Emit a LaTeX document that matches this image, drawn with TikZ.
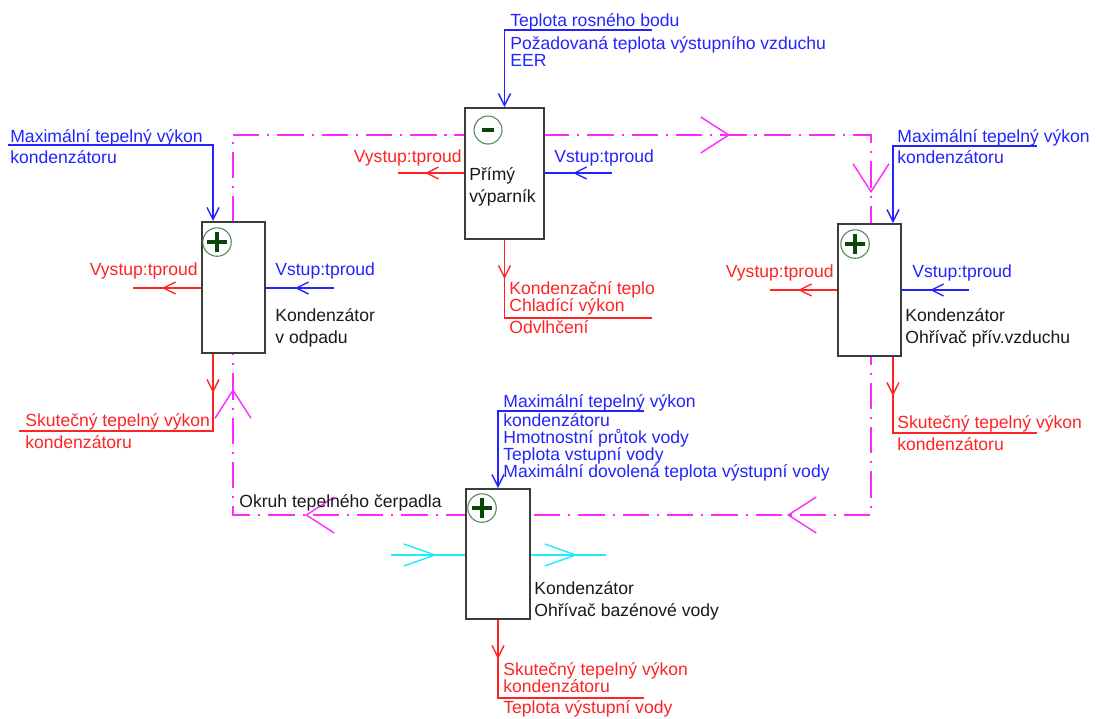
\documentclass[tikz,border=0pt]{standalone}
\usepackage{fontspec}
\setmainfont{Liberation Sans}
\usetikzlibrary{calc, positioning, arrows.meta, decorations.markings}

\definecolor{modra}{RGB}{35,35,255}
\definecolor{cervena}{RGB}{255,35,35}
\definecolor{fialova}{RGB}{255,40,255}
\definecolor{tyrkys}{RGB}{30,235,255}
\definecolor{tmzelena}{RGB}{10,70,10}
\definecolor{svzelena}{RGB}{80,135,80}
\definecolor{ramecek}{RGB}{60,60,60}
\definecolor{pismo}{RGB}{25,25,25}

\newcommand{\hustypis}{\fontsize{10}{9.6}\selectfont\lineskiplimit-20pt\relax}
\newcommand{\volnypis}{\fontsize{10}{12.2}\selectfont\lineskiplimit-20pt\relax}

\tikzset{
    mala/.tip={Straight Barb[length=2.4mm, width=2.4mm]},
    velka/.tip={Straight Barb[length=5.6mm, width=7.2mm]},
    vodni/.tip={Straight Barb[length=6.2mm, width=4.4mm]},
    blok/.style={draw=ramecek, line width=1.1pt, fill=white, inner sep=0pt},
    vstup/.style={modra, line width=0.8pt},
    vystup/.style={cervena, line width=0.8pt},
    voda/.style={tyrkys, line width=0.8pt},
    okruh/.style={fialova, line width=0.8pt,
        dash pattern=on 15pt off 4.5pt on 1.2pt off 4.5pt},
    sipka/.style={postaction={decorate, decoration={markings,
        mark=at position #1 with {\arrow{mala}}}}},
    sipka/.default=7.8mm,
    vodnisipka/.style={postaction={decorate, decoration={markings,
        mark=at position #1 with {\arrow{vodni}}}}},
    txt/.style={inner sep=0pt, align=left, font=\hustypis},
    popisek/.style={txt, text=pismo, font=\volnypis},
    plusznak/.style={circle, draw=svzelena, line width=0.6pt,
        minimum size=5.7mm, inner sep=0pt,
        path picture={\draw[tmzelena, line width=2pt]
            (path picture bounding box.center) ++(-10,0) -- ++(20,0)
            (path picture bounding box.center) ++(0,-10) -- ++(0,20);}},
    minusznak/.style={circle, draw=svzelena, line width=0.6pt,
        minimum size=5.6mm, inner sep=0pt,
        path picture={\draw[tmzelena, line width=2pt]
            (path picture bounding box.center) ++(-6,0) -- ++(12,0);}}
}

\begin{document}
\begin{tikzpicture}[x=0.2mm, y=-0.2mm]

    % 0. Rozmer obrazku
    \useasboundingbox (0,0) rectangle (1096,718);

    % 1. Okruh tepelneho cerpadla
    \coordinate (okLH) at (233,135);
    \coordinate (okPH) at (871,135);
    \coordinate (okPD) at (871,515);
    \coordinate (okLD) at (233,515);

    \draw[okruh,
        postaction={decorate, decoration={markings,
            mark=at position 99.4mm with {\arrow[solid]{velka}},
            mark=at position 139.2mm with {\arrow[solid]{velka}},
            mark=at position 220.4mm with {\arrow[solid]{velka}},
            mark=at position 316.8mm with {\arrow[solid]{velka}},
            mark=at position 356.4mm with {\arrow[solid]{velka}}}}]
        (okLH) -- (okPH) -- (okPD) -- (okLD) -- cycle;

    \node[txt, text=pismo, anchor=base west] (okruhTxt) at (239,507)
        {Okruh tepelného čerpadla};

    % 2. Bloky
    \node[blok, minimum width=15.8mm, minimum height=26.2mm]
        (vyparnik) at (504.5,173.5) {};
    \node[blok, minimum width=12.6mm, minimum height=26.2mm]
        (kondOdpad) at (233.5,287.5) {};
    \node[blok, minimum width=12.6mm, minimum height=26.4mm]
        (kondPriv) at (869.5,290) {};
    \node[blok, minimum width=12.8mm, minimum height=26mm]
        (kondBazen) at (498,554) {};

    \node[minusznak] (vypZnak) at ($(vyparnik.north west)+(24,23)$) {};
    \node[plusznak] (odpZnak) at ($(kondOdpad.north west)+(16,21)$) {};
    \node[plusznak] (privZnak) at ($(kondPriv.north west)+(18,21)$) {};
    \node[plusznak] (bazZnak) at ($(kondBazen.north west)+(17,20)$) {};

    % (base = uctari posledniho radku)
    \node[popisek, anchor=base west] (vypPopis) at (469,202)
        {Přímý\\výparník};
    \node[popisek, anchor=base west] (odpPopis) at (275,343)
        {Kondenzátor\\v odpadu};
    \node[popisek, anchor=base west] (privPopis) at (905,343)
        {Kondenzátor\\Ohřívač přív.vzduchu};
    \node[popisek, anchor=base west] (bazPopis) at (534,616)
        {Kondenzátor\\Ohřívač bazénové vody};

    % 3. Primy vyparnik
    \coordinate (vypPar) at (652,30);
    \coordinate (vypVstup) at (612,173);
    \coordinate (vypVystup) at (398,173);
    \coordinate (vypKonec) at (652,318);

    \draw[vstup, -{mala}] (vypPar) -| (vyparnik.north);
    \draw[vstup, sipka] (vypVstup) -- (vypVstup -| vyparnik.east);
    \draw[vystup, sipka] (vypVystup -| vyparnik.west) -- (vypVystup);
    \draw[vystup, sipka] (vyparnik.south) |- (vypKonec);

    \node[txt, text=modra, anchor=base west] at (510,26)
        {Teplota rosného bodu};
    \node[txt, text=modra, anchor=base west] at (510,66)
        {Požadovaná teplota výstupního vzduchu\\EER};
    \node[txt, text=modra, anchor=base west] at (554,162) {Vstup:tproud};
    \node[txt, text=cervena, anchor=base east] at (462,162) {Vystup:tproud};
    \node[txt, text=cervena, anchor=base west] at (509,311)
        {Kondenzační teplo\\Chladící výkon};
    \node[txt, text=cervena, anchor=base west] at (509,333) {Odvlhčení};

    % 4. Kondenzator v odpadu
    \coordinate (odpPar) at (8,145);
    \coordinate (odpVst) at ($(kondOdpad.north west)+(12,0)$);
    \coordinate (odpVyst) at ($(kondOdpad.south west)+(12,0)$);
    \coordinate (odpVstup) at (334,288);
    \coordinate (odpVystup) at (133,288);
    \coordinate (odpKonec) at (19,431);

    \draw[vstup, -{mala}] (odpPar) -| (odpVst);
    \draw[vstup, sipka] (odpVstup) -- (odpVstup -| kondOdpad.east);
    \draw[vystup, sipka] (odpVystup -| kondOdpad.west) -- (odpVystup);
    \draw[vystup, sipka] (odpVyst) |- (odpKonec);

    \node[txt, text=modra, anchor=base west] at (10,142)
        {Maximální tepelný výkon};
    \node[txt, text=modra, anchor=base west] at (10,163) {kondenzátoru};
    \node[txt, text=modra, anchor=base west] at (275,275) {Vstup:tproud};
    \node[txt, text=cervena, anchor=base east] at (198,275) {Vystup:tproud};
    \node[txt, text=cervena, anchor=base west] at (25,426)
        {Skutečný tepelný výkon};
    \node[txt, text=cervena, anchor=base west] at (25,448) {kondenzátoru};

    % 5. Kondenzator - ohrivac privadeneho vzduchu
    \coordinate (privPar) at (1037,146);
    \coordinate (privVst) at ($(kondPriv.north east)+(-9,0)$);
    \coordinate (privVyst) at ($(kondPriv.south east)+(-9,0)$);
    \coordinate (privVstup) at (969,290);
    \coordinate (privVystup) at (770,290);
    \coordinate (privKonec) at (1037,433);

    \draw[vstup, -{mala}] (privPar) -| (privVst);
    \draw[vstup, sipka] (privVstup) -- (privVstup -| kondPriv.east);
    \draw[vystup, sipka] (privVystup -| kondPriv.west) -- (privVystup);
    \draw[vystup, sipka] (privVyst) |- (privKonec);

    \node[txt, text=modra, anchor=base west] at (897,142)
        {Maximální tepelný výkon};
    \node[txt, text=modra, anchor=base west] at (897,163) {kondenzátoru};
    \node[txt, text=modra, anchor=base west] at (912,277) {Vstup:tproud};
    \node[txt, text=cervena, anchor=base east] at (834,277) {Vystup:tproud};
    \node[txt, text=cervena, anchor=base west] at (897,428)
        {Skutečný tepelný výkon};
    \node[txt, text=cervena, anchor=base west] at (897,450) {kondenzátoru};

    % 6. Kondenzator - ohrivac bazenove vody
    \coordinate (bazPar) at (644,411);
    \coordinate (bazKonec) at (644,698);
    \coordinate (vodaVstup) at (391,555);
    \coordinate (vodaVystup) at (606,555);

    \draw[vstup, -{mala}] (bazPar) -| (kondBazen.north);
    \draw[vystup, sipka] (kondBazen.south) |- (bazKonec);
    \draw[voda, vodnisipka=9.2mm] (vodaVstup) -- (vodaVstup -| kondBazen.west);
    \draw[voda, vodnisipka=9.4mm] (vodaVystup -| kondBazen.east) -- (vodaVystup);

    \node[txt, text=modra, anchor=base west] at (503,407)
        {Maximální tepelný výkon};
    \node[txt, text=modra, anchor=base west] at (503,477)
        {kondenzátoru\\Hmotnostní průtok vody\\Teplota vstupní vody\\%
         Maximální dovolená teplota výstupní vody};
    \node[txt, text=cervena, anchor=base west] at (503,692)
        {Skutečný tepelný výkon\\kondenzátoru};
    \node[txt, text=cervena, anchor=base west] at (503,713)
        {Teplota výstupní vody};

\end{tikzpicture}
\end{document}
